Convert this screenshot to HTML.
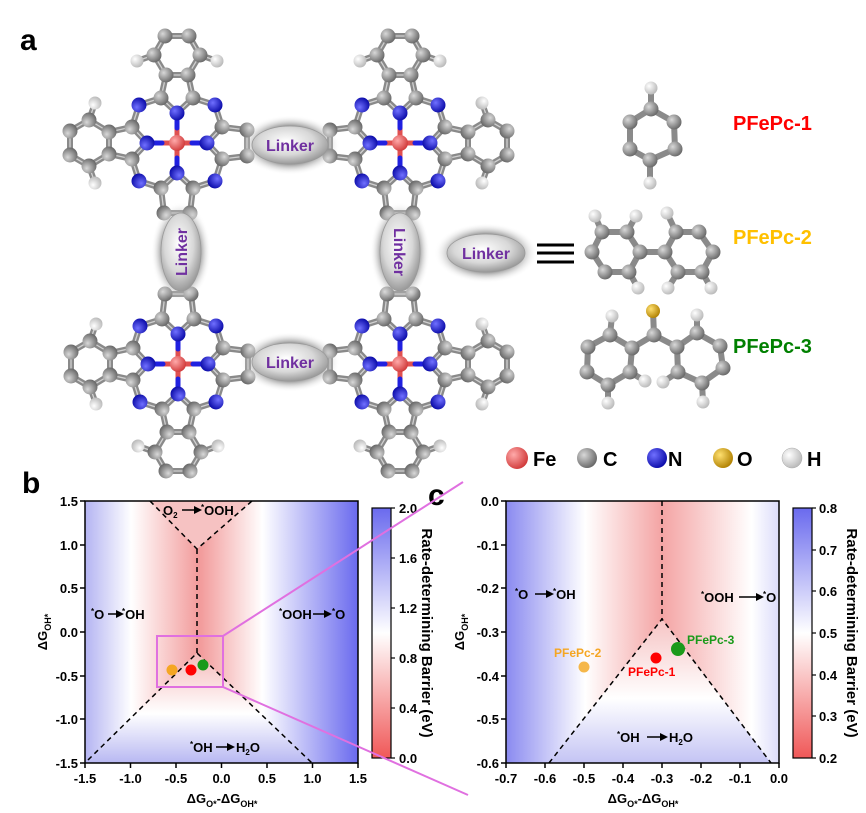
<!DOCTYPE html>
<html><head><meta charset="utf-8"><style>
html,body{margin:0;padding:0;background:#fff;}
svg{display:block;font-family:"Liberation Sans",sans-serif;}
</style></head><body>
<svg width="866" height="813" viewBox="0 0 866 813" xmlns="http://www.w3.org/2000/svg">
<defs>
<radialGradient id="gC" cx="35%" cy="35%" r="70%"><stop offset="0" stop-color="#d8d8d8"/><stop offset="1" stop-color="#666"/></radialGradient>
<radialGradient id="gN" cx="35%" cy="35%" r="70%"><stop offset="0" stop-color="#7070ff"/><stop offset="1" stop-color="#0a0aa8"/></radialGradient>
<radialGradient id="gFe" cx="35%" cy="35%" r="70%"><stop offset="0" stop-color="#ffaaaa"/><stop offset="1" stop-color="#d03838"/></radialGradient>
<radialGradient id="gH" cx="35%" cy="35%" r="70%"><stop offset="0" stop-color="#ffffff"/><stop offset="1" stop-color="#b8b8b8"/></radialGradient>
<radialGradient id="gO" cx="35%" cy="35%" r="70%"><stop offset="0" stop-color="#ffe070"/><stop offset="1" stop-color="#b08000"/></radialGradient>
<radialGradient id="gL" cx="45%" cy="40%" r="60%"><stop offset="0" stop-color="#ffffff"/><stop offset="0.6" stop-color="#d8d8d8"/><stop offset="1" stop-color="#9a9a9a"/></radialGradient>
<radialGradient id="gLs" cx="50%" cy="50%" r="50%"><stop offset="0.6" stop-color="#777" stop-opacity="0.9"/><stop offset="1" stop-color="#fff" stop-opacity="0"/></radialGradient>

<g id="sideB">
<line x1="0" y1="-30" x2="-16" y2="-45"/><line x1="0" y1="-30" x2="16" y2="-45"/>
<line x1="-16" y1="-45" x2="-11" y2="-68"/><line x1="16" y1="-45" x2="11" y2="-68"/>
<line x1="-11" y1="-68" x2="11" y2="-68"/>
<line x1="-11" y1="-68" x2="-23" y2="-88"/><line x1="-23" y1="-88" x2="-12" y2="-107"/>
<line x1="-12" y1="-107" x2="12" y2="-107"/><line x1="12" y1="-107" x2="23" y2="-88"/>
<line x1="23" y1="-88" x2="11" y2="-68"/>
<line x1="16" y1="-45" x2="38" y2="-38"/><line x1="38" y1="-38" x2="45" y2="-16"/>
<line x1="-23" y1="-88" x2="-40" y2="-82"/><line x1="23" y1="-88" x2="40" y2="-82"/>
</g>
<g id="sideA">
<circle cx="-40" cy="-82" r="6.5" fill="url(#gH)"/><circle cx="40" cy="-82" r="6.5" fill="url(#gH)"/>
<circle cx="-16" cy="-45" r="7.5" fill="url(#gC)"/><circle cx="16" cy="-45" r="7.5" fill="url(#gC)"/>
<circle cx="-11" cy="-68" r="7.5" fill="url(#gC)"/><circle cx="11" cy="-68" r="7.5" fill="url(#gC)"/>
<circle cx="-23" cy="-88" r="7.5" fill="url(#gC)"/><circle cx="23" cy="-88" r="7.5" fill="url(#gC)"/>
<circle cx="-12" cy="-107" r="7.5" fill="url(#gC)"/><circle cx="12" cy="-107" r="7.5" fill="url(#gC)"/>
<circle cx="0" cy="-30" r="7.5" fill="url(#gN)"/><circle cx="38" cy="-38" r="7.5" fill="url(#gN)"/>
</g>
<g id="lsideB">
<line x1="0" y1="-30" x2="-16" y2="-45"/><line x1="0" y1="-30" x2="16" y2="-45"/>
<line x1="-16" y1="-45" x2="-13" y2="-70"/><line x1="16" y1="-45" x2="13" y2="-70"/>
<line x1="-13" y1="-70" x2="13" y2="-70"/>
<line x1="16" y1="-45" x2="38" y2="-38"/><line x1="38" y1="-38" x2="45" y2="-16"/>
</g>
<g id="lsideA">
<circle cx="-16" cy="-45" r="7.5" fill="url(#gC)"/><circle cx="16" cy="-45" r="7.5" fill="url(#gC)"/>
<circle cx="-13" cy="-70" r="7.5" fill="url(#gC)"/><circle cx="13" cy="-70" r="7.5" fill="url(#gC)"/>
<circle cx="0" cy="-30" r="7.5" fill="url(#gN)"/><circle cx="38" cy="-38" r="7.5" fill="url(#gN)"/>
</g>
<g id="core">
<line x1="-30" y1="0" x2="30" y2="0" stroke="#e05050" stroke-width="5"/>
<line x1="0" y1="-30" x2="0" y2="30" stroke="#e05050" stroke-width="5"/>
<line x1="-30" y1="0" x2="-15" y2="0" stroke="#2020e0" stroke-width="5"/><line x1="30" y1="0" x2="15" y2="0" stroke="#2020e0" stroke-width="5"/>
<line x1="0" y1="-30" x2="0" y2="-15" stroke="#2020e0" stroke-width="5"/><line x1="0" y1="30" x2="0" y2="15" stroke="#2020e0" stroke-width="5"/>
</g>
<g id="fe"><circle r="8" fill="url(#gFe)"/></g>

<linearGradient id="hb" x1="0" x2="1" y1="0" y2="0">
<stop offset="0" stop-color="#b4b4f2"/><stop offset="0.17" stop-color="#ffffff"/><stop offset="0.42" stop-color="#f29a9a"/><stop offset="0.65" stop-color="#ffffff"/><stop offset="1" stop-color="#6a6aee"/></linearGradient>
<linearGradient id="hbv" x1="0" x2="0" y1="0" y2="1">
<stop offset="0" stop-color="#f5baba"/><stop offset="0.55" stop-color="#ffffff"/><stop offset="1" stop-color="#b8b8f2"/></linearGradient>
<linearGradient id="hc" x1="0" x2="1" y1="0" y2="0">
<stop offset="0" stop-color="#8a8af0"/><stop offset="0.29" stop-color="#ffffff"/><stop offset="0.57" stop-color="#f4a4a4"/><stop offset="0.9" stop-color="#ffffff"/><stop offset="1" stop-color="#dcdcfa"/></linearGradient>
<linearGradient id="hcv" x1="0" x2="0" y1="0" y2="1">
<stop offset="0" stop-color="#f6c4c4"/><stop offset="0.55" stop-color="#ffffff"/><stop offset="1" stop-color="#c4c4f4"/></linearGradient>
<linearGradient id="cb" x1="0" x2="0" y1="0" y2="1">
<stop offset="0" stop-color="#6a6aee"/><stop offset="0.5" stop-color="#ffffff"/><stop offset="1" stop-color="#f05858"/></linearGradient>
</defs>

<!-- panel labels -->
<text x="20" y="50" font-size="30" font-weight="bold">a</text>
<text x="22" y="493" font-size="30" font-weight="bold">b</text>
<text x="428" y="505" font-size="30" font-weight="bold">c</text>

<!-- Pc units -->
<g stroke-linecap="round">
<g transform="translate(177,143)">
 <g stroke="#8a8a8a" stroke-width="6"><use href="#sideB"/><use href="#sideB" transform="rotate(-90)"/><use href="#lsideB" transform="rotate(90)"/><use href="#lsideB" transform="rotate(180)"/></g>
 <g stroke="#d0d0d0" stroke-width="1.3"><use href="#sideB"/><use href="#sideB" transform="rotate(-90)"/><use href="#lsideB" transform="rotate(90)"/><use href="#lsideB" transform="rotate(180)"/></g>
 <use href="#core"/><use href="#sideA"/><use href="#sideA" transform="rotate(-90)"/><use href="#lsideA" transform="rotate(90)"/><use href="#lsideA" transform="rotate(180)"/><use href="#fe"/>
</g>
<g transform="translate(400,143)">
 <g stroke="#8a8a8a" stroke-width="6"><use href="#sideB"/><use href="#sideB" transform="rotate(90)"/><use href="#lsideB" transform="rotate(-90)"/><use href="#lsideB" transform="rotate(180)"/></g>
 <g stroke="#d0d0d0" stroke-width="1.3"><use href="#sideB"/><use href="#sideB" transform="rotate(90)"/><use href="#lsideB" transform="rotate(-90)"/><use href="#lsideB" transform="rotate(180)"/></g>
 <use href="#core"/><use href="#sideA"/><use href="#sideA" transform="rotate(90)"/><use href="#lsideA" transform="rotate(-90)"/><use href="#lsideA" transform="rotate(180)"/><use href="#fe"/>
</g>
<g transform="translate(178,364)">
 <g stroke="#8a8a8a" stroke-width="6"><use href="#sideB" transform="rotate(180)"/><use href="#sideB" transform="rotate(-90)"/><use href="#lsideB" transform="rotate(90)"/><use href="#lsideB"/></g>
 <g stroke="#d0d0d0" stroke-width="1.3"><use href="#sideB" transform="rotate(180)"/><use href="#sideB" transform="rotate(-90)"/><use href="#lsideB" transform="rotate(90)"/><use href="#lsideB"/></g>
 <use href="#core"/><use href="#sideA" transform="rotate(180)"/><use href="#sideA" transform="rotate(-90)"/><use href="#lsideA" transform="rotate(90)"/><use href="#lsideA"/><use href="#fe"/>
</g>
<g transform="translate(400,364)">
 <g stroke="#8a8a8a" stroke-width="6"><use href="#sideB" transform="rotate(180)"/><use href="#sideB" transform="rotate(90)"/><use href="#lsideB" transform="rotate(-90)"/><use href="#lsideB"/></g>
 <g stroke="#d0d0d0" stroke-width="1.3"><use href="#sideB" transform="rotate(180)"/><use href="#sideB" transform="rotate(90)"/><use href="#lsideB" transform="rotate(-90)"/><use href="#lsideB"/></g>
 <use href="#core"/><use href="#sideA" transform="rotate(180)"/><use href="#sideA" transform="rotate(90)"/><use href="#lsideA" transform="rotate(-90)"/><use href="#lsideA"/><use href="#fe"/>
</g>
</g>

<!-- Linkers -->
<g font-size="16" font-weight="bold" fill="#7030a0">
<ellipse cx="290" cy="145" rx="50" ry="30" fill="url(#gLs)"/><ellipse cx="290" cy="145" rx="38" ry="19" fill="url(#gL)" stroke="#999" stroke-width="0.8"/>
<text x="290" y="151" text-anchor="middle">Linker</text>
<ellipse cx="290" cy="362" rx="50" ry="30" fill="url(#gLs)"/><ellipse cx="290" cy="362" rx="38" ry="19" fill="url(#gL)" stroke="#999" stroke-width="0.8"/>
<text x="290" y="368" text-anchor="middle">Linker</text>
<ellipse cx="181" cy="252" rx="30" ry="50" fill="url(#gLs)"/><ellipse cx="181" cy="252" rx="20" ry="39" fill="url(#gL)" stroke="#999" stroke-width="0.8"/>
<text transform="translate(187,252) rotate(-90)" text-anchor="middle">Linker</text>
<ellipse cx="400" cy="252" rx="30" ry="50" fill="url(#gLs)"/><ellipse cx="400" cy="252" rx="20" ry="39" fill="url(#gL)" stroke="#999" stroke-width="0.8"/>
<text transform="translate(394,252) rotate(90)" text-anchor="middle">Linker</text>
<ellipse cx="486" cy="253" rx="52" ry="30" fill="url(#gLs)"/><ellipse cx="486" cy="253" rx="39" ry="19" fill="url(#gL)" stroke="#999" stroke-width="0.8"/>
<text x="486" y="259" text-anchor="middle">Linker</text>
</g>
<g stroke="#000" stroke-width="3"><line x1="537" y1="245" x2="574" y2="245"/><line x1="537" y1="253" x2="574" y2="253"/><line x1="537" y1="262" x2="574" y2="262"/></g>

<!-- Right molecules -->
<g stroke-linecap="round">
<g stroke="#8a8a8a" stroke-width="6" fill="none">
<polygon points="651,109 674,122 675,149 650,160 630,149 630,122"/>
<line x1="651" y1="109" x2="651" y2="88"/><line x1="650" y1="160" x2="650" y2="183"/>
<polygon points="602,232 627,232 640,252 629,272 605,272 592,252"/>
<polygon points="665,252 676,232 699,232 713,252 702,272 678,272"/>
<line x1="640" y1="252" x2="665" y2="252"/>
<line x1="602" y1="232" x2="595" y2="216"/><line x1="627" y1="232" x2="636" y2="216"/><line x1="676" y1="232" x2="667" y2="213"/>
<line x1="629" y1="272" x2="638" y2="288"/><line x1="678" y1="272" x2="668" y2="288"/><line x1="702" y1="272" x2="711" y2="288"/>
<polygon points="632,348 610,335 588,347 587,372 608,385 630,372"/>
<polygon points="677,347 697,333 720,346 723,368 702,383 678,372"/>
<line x1="632" y1="348" x2="654" y2="335"/><line x1="654" y1="335" x2="677" y2="347"/><line x1="654" y1="335" x2="653" y2="311"/>
<line x1="610" y1="335" x2="612" y2="316"/><line x1="608" y1="385" x2="608" y2="403"/><line x1="630" y1="372" x2="645" y2="381"/>
<line x1="697" y1="333" x2="697" y2="315"/><line x1="702" y1="383" x2="703" y2="402"/><line x1="678" y1="372" x2="663" y2="382"/>
</g>
<g fill="url(#gC)">
<circle cx="651" cy="109" r="7.5"/><circle cx="674" cy="122" r="7.5"/><circle cx="675" cy="149" r="7.5"/><circle cx="650" cy="160" r="7.5"/><circle cx="630" cy="149" r="7.5"/><circle cx="630" cy="122" r="7.5"/>
<circle cx="602" cy="232" r="7.5"/><circle cx="627" cy="232" r="7.5"/><circle cx="640" cy="252" r="7.5"/><circle cx="629" cy="272" r="7.5"/><circle cx="605" cy="272" r="7.5"/><circle cx="592" cy="252" r="7.5"/>
<circle cx="665" cy="252" r="7.5"/><circle cx="676" cy="232" r="7.5"/><circle cx="699" cy="232" r="7.5"/><circle cx="713" cy="252" r="7.5"/><circle cx="702" cy="272" r="7.5"/><circle cx="678" cy="272" r="7.5"/>
<circle cx="632" cy="348" r="7.5"/><circle cx="610" cy="335" r="7.5"/><circle cx="588" cy="347" r="7.5"/><circle cx="587" cy="372" r="7.5"/><circle cx="608" cy="385" r="7.5"/><circle cx="630" cy="372" r="7.5"/>
<circle cx="654" cy="335" r="7.5"/>
<circle cx="677" cy="347" r="7.5"/><circle cx="697" cy="333" r="7.5"/><circle cx="720" cy="346" r="7.5"/><circle cx="723" cy="368" r="7.5"/><circle cx="702" cy="383" r="7.5"/><circle cx="678" cy="372" r="7.5"/>
</g>
<g fill="url(#gH)">
<circle cx="651" cy="88" r="6.5"/><circle cx="650" cy="183" r="6.5"/>
<circle cx="595" cy="216" r="6.5"/><circle cx="636" cy="216" r="6.5"/><circle cx="667" cy="213" r="6.5"/><circle cx="638" cy="288" r="6.5"/><circle cx="668" cy="288" r="6.5"/><circle cx="711" cy="288" r="6.5"/>
<circle cx="612" cy="316" r="6.5"/><circle cx="608" cy="403" r="6.5"/><circle cx="645" cy="381" r="6.5"/><circle cx="697" cy="315" r="6.5"/><circle cx="703" cy="402" r="6.5"/><circle cx="663" cy="382" r="6.5"/>
</g>
<circle cx="653" cy="311" r="7" fill="url(#gO)"/>
</g>
<g font-size="20" font-weight="bold">
<text x="733" y="130" fill="#ff0000">PFePc-1</text>
<text x="733" y="244" fill="#ffc000">PFePc-2</text>
<text x="733" y="353" fill="#008000">PFePc-3</text>
</g>

<!-- legend -->
<g font-size="20" font-weight="bold">
<circle cx="517" cy="458" r="11" fill="url(#gFe)"/><text x="533" y="466">Fe</text>
<circle cx="587" cy="458" r="10" fill="url(#gC)"/><text x="603" y="466">C</text>
<circle cx="657" cy="458" r="10" fill="url(#gN)"/><text x="668" y="466">N</text>
<circle cx="723" cy="458" r="10" fill="url(#gO)"/><text x="737" y="466">O</text>
<circle cx="792" cy="458" r="10" fill="url(#gH)" stroke="#aaa" stroke-width="0.5"/><text x="807" y="466">H</text>
</g>

<!-- Plot b -->
<rect x="85" y="501" width="273" height="262" fill="url(#hb)"/>
<polygon points="88,763 197,653 312,763" fill="url(#hbv)"/>
<polygon points="150,501 197,549 252,501" fill="#f6c2c2"/>
<g stroke="#000" stroke-width="1.5" stroke-dasharray="5,4" fill="none">
<polyline points="150,501 197,549 252,501"/><line x1="197" y1="549" x2="197" y2="653"/>
<polyline points="88,760 197,653 312,763"/>
</g>
<rect x="85" y="501" width="273" height="262" fill="none" stroke="#000" stroke-width="1.5"/>
<rect x="157" y="636" width="66" height="51" fill="none" stroke="#e070e0" stroke-width="2"/>
<circle cx="172" cy="670" r="5.5" fill="#f5a623"/><circle cx="191" cy="670" r="5.5" fill="#ff0000"/><circle cx="203" cy="665" r="5.5" fill="#1a9a1a"/>
<g stroke="#000" stroke-width="1.5">
<line x1="85" y1="763" x2="85" y2="768"/><line x1="130.5" y1="763" x2="130.5" y2="768"/><line x1="176" y1="763" x2="176" y2="768"/><line x1="221.5" y1="763" x2="221.5" y2="768"/><line x1="267" y1="763" x2="267" y2="768"/><line x1="312.5" y1="763" x2="312.5" y2="768"/><line x1="358" y1="763" x2="358" y2="768"/>
<line x1="80" y1="501" x2="85" y2="501"/><line x1="80" y1="545" x2="85" y2="545"/><line x1="80" y1="588" x2="85" y2="588"/><line x1="80" y1="632" x2="85" y2="632"/><line x1="80" y1="676" x2="85" y2="676"/><line x1="80" y1="719" x2="85" y2="719"/><line x1="80" y1="763" x2="85" y2="763"/>
</g>
<g font-size="13" font-weight="bold" text-anchor="end">
<text x="78" y="506">1.5</text><text x="78" y="550">1.0</text><text x="78" y="593">0.5</text><text x="78" y="637">0.0</text><text x="78" y="681">-0.5</text><text x="78" y="724">-1.0</text><text x="78" y="768">-1.5</text>
</g>
<g font-size="13" font-weight="bold" text-anchor="middle">
<text x="85" y="783">-1.5</text><text x="130.5" y="783">-1.0</text><text x="176" y="783">-0.5</text><text x="221.5" y="783">0.0</text><text x="267" y="783">0.5</text><text x="312.5" y="783">1.0</text><text x="358" y="783">1.5</text>
<text x="222" y="803">ΔG<tspan font-size="9" dy="4">O*</tspan><tspan dy="-4">-ΔG</tspan><tspan font-size="9" dy="4">OH*</tspan></text>
<text transform="translate(47,632) rotate(-90)">ΔG<tspan font-size="9" dy="4">OH*</tspan></text>
</g>
<g font-size="13" font-weight="bold" fill="#000">
<text x="91" y="619"><tspan font-size="8" dy="-5">*</tspan><tspan dy="5">O</tspan></text>
<line x1="108" y1="614" x2="118" y2="614" stroke="#000" stroke-width="1.5"/><polygon points="116,610 124,614 116,618"/>
<text x="122" y="619"><tspan font-size="8" dy="-5">*</tspan><tspan dy="5">OH</tspan></text>
<text x="279" y="619"><tspan font-size="8" dy="-5">*</tspan><tspan dy="5">OOH</tspan></text>
<line x1="313" y1="614" x2="326" y2="614" stroke="#000" stroke-width="1.5"/><polygon points="324,610 332,614 324,618"/>
<text x="332" y="619"><tspan font-size="8" dy="-5">*</tspan><tspan dy="5">O</tspan></text>
<text x="163" y="515">O<tspan font-size="8" dy="3">2</tspan></text>
<line x1="182" y1="510" x2="196" y2="510" stroke="#000" stroke-width="1.5"/><polygon points="194,506 202,510 194,514"/>
<text x="201" y="515"><tspan font-size="8" dy="-5">*</tspan><tspan dy="5">OOH</tspan></text>
<text x="190" y="752"><tspan font-size="8" dy="-5">*</tspan><tspan dy="5">OH</tspan></text>
<line x1="216" y1="747" x2="229" y2="747" stroke="#000" stroke-width="1.5"/><polygon points="227,743 235,747 227,751"/>
<text x="236" y="752">H<tspan font-size="8" dy="3">2</tspan><tspan dy="-3">O</tspan></text>
</g>
<!-- colorbar b -->
<rect x="372" y="508" width="19" height="250" fill="url(#cb)" stroke="#000" stroke-width="1.2"/>
<g stroke="#000" stroke-width="1.2"><line x1="391" y1="508" x2="395" y2="508"/><line x1="391" y1="558" x2="395" y2="558"/><line x1="391" y1="608" x2="395" y2="608"/><line x1="391" y1="658" x2="395" y2="658"/><line x1="391" y1="708" x2="395" y2="708"/><line x1="391" y1="758" x2="395" y2="758"/></g>
<g font-size="13" font-weight="bold">
<text x="399" y="513">2.0</text><text x="399" y="563">1.6</text><text x="399" y="613">1.2</text><text x="399" y="663">0.8</text><text x="399" y="713">0.4</text><text x="399" y="763">0.0</text>
</g>
<text transform="translate(422,633) rotate(90)" font-size="15" font-weight="bold" text-anchor="middle">Rate-determining Barrier (eV)</text>

<!-- magenta zoom lines -->
<g stroke="#e070e0" stroke-width="2"><line x1="223" y1="636" x2="463" y2="482"/><line x1="223" y1="687" x2="468" y2="795"/></g>

<!-- Plot c -->
<rect x="506" y="501" width="273" height="262" fill="url(#hc)"/>
<polygon points="549,763 662,619 771,763" fill="url(#hcv)"/>
<g stroke="#000" stroke-width="1.5" stroke-dasharray="5,4" fill="none">
<line x1="662" y1="501" x2="662" y2="619"/><polyline points="549,763 662,619 771,763"/>
</g>
<rect x="506" y="501" width="273" height="262" fill="none" stroke="#000" stroke-width="1.5"/>
<circle cx="584" cy="667" r="5.5" fill="#f5b74a"/><circle cx="656" cy="658" r="5.5" fill="#ff0000"/><circle cx="678" cy="649" r="7" fill="#1a9a1a"/>
<g font-size="12" font-weight="bold">
<text x="554" y="657" fill="#f5a623">PFePc-2</text>
<text x="628" y="676" fill="#ff0000">PFePc-1</text>
<text x="687" y="644" fill="#1a9a1a">PFePc-3</text>
</g>
<g stroke="#000" stroke-width="1.5">
<line x1="506" y1="763" x2="506" y2="768"/><line x1="545" y1="763" x2="545" y2="768"/><line x1="584" y1="763" x2="584" y2="768"/><line x1="623" y1="763" x2="623" y2="768"/><line x1="662" y1="763" x2="662" y2="768"/><line x1="701" y1="763" x2="701" y2="768"/><line x1="740" y1="763" x2="740" y2="768"/><line x1="779" y1="763" x2="779" y2="768"/>
<line x1="501" y1="501" x2="506" y2="501"/><line x1="501" y1="545" x2="506" y2="545"/><line x1="501" y1="588" x2="506" y2="588"/><line x1="501" y1="632" x2="506" y2="632"/><line x1="501" y1="676" x2="506" y2="676"/><line x1="501" y1="719" x2="506" y2="719"/><line x1="501" y1="763" x2="506" y2="763"/>
</g>
<g font-size="13" font-weight="bold" text-anchor="end">
<text x="499" y="506">0.0</text><text x="499" y="550">-0.1</text><text x="499" y="593">-0.2</text><text x="499" y="637">-0.3</text><text x="499" y="681">-0.4</text><text x="499" y="724">-0.5</text><text x="499" y="768">-0.6</text>
</g>
<g font-size="13" font-weight="bold" text-anchor="middle">
<text x="506" y="783">-0.7</text><text x="545" y="783">-0.6</text><text x="584" y="783">-0.5</text><text x="623" y="783">-0.4</text><text x="662" y="783">-0.3</text><text x="701" y="783">-0.2</text><text x="740" y="783">-0.1</text><text x="779" y="783">0.0</text>
<text x="643" y="803">ΔG<tspan font-size="9" dy="4">O*</tspan><tspan dy="-4">-ΔG</tspan><tspan font-size="9" dy="4">OH*</tspan></text>
<text transform="translate(464,632) rotate(-90)">ΔG<tspan font-size="9" dy="4">OH*</tspan></text>
</g>
<g font-size="13" font-weight="bold" fill="#000">
<text x="515" y="599"><tspan font-size="8" dy="-5">*</tspan><tspan dy="5">O</tspan></text>
<line x1="535" y1="594" x2="548" y2="594" stroke="#000" stroke-width="1.5"/><polygon points="546,590 554,594 546,598"/>
<text x="553" y="599"><tspan font-size="8" dy="-5">*</tspan><tspan dy="5">OH</tspan></text>
<text x="701" y="602"><tspan font-size="8" dy="-5">*</tspan><tspan dy="5">OOH</tspan></text>
<line x1="739" y1="597" x2="758" y2="597" stroke="#000" stroke-width="1.5"/><polygon points="756,593 764,597 756,601"/>
<text x="763" y="602"><tspan font-size="8" dy="-5">*</tspan><tspan dy="5">O</tspan></text>
<text x="617" y="742"><tspan font-size="8" dy="-5">*</tspan><tspan dy="5">OH</tspan></text>
<line x1="647" y1="737" x2="662" y2="737" stroke="#000" stroke-width="1.5"/><polygon points="660,733 668,737 660,741"/>
<text x="669" y="742">H<tspan font-size="8" dy="3">2</tspan><tspan dy="-3">O</tspan></text>
</g>
<!-- colorbar c -->
<rect x="793" y="508" width="19" height="250" fill="url(#cb)" stroke="#000" stroke-width="1.2"/>
<g stroke="#000" stroke-width="1.2"><line x1="812" y1="508" x2="816" y2="508"/><line x1="812" y1="550" x2="816" y2="550"/><line x1="812" y1="591" x2="816" y2="591"/><line x1="812" y1="633" x2="816" y2="633"/><line x1="812" y1="675" x2="816" y2="675"/><line x1="812" y1="716" x2="816" y2="716"/><line x1="812" y1="758" x2="816" y2="758"/></g>
<g font-size="13" font-weight="bold">
<text x="819" y="513">0.8</text><text x="819" y="555">0.7</text><text x="819" y="596">0.6</text><text x="819" y="638">0.5</text><text x="819" y="680">0.4</text><text x="819" y="721">0.3</text><text x="819" y="763">0.2</text>
</g>
<text transform="translate(847,633) rotate(90)" font-size="15" font-weight="bold" text-anchor="middle">Rate-determining Barrier (eV)</text>
</svg>
</body></html>
